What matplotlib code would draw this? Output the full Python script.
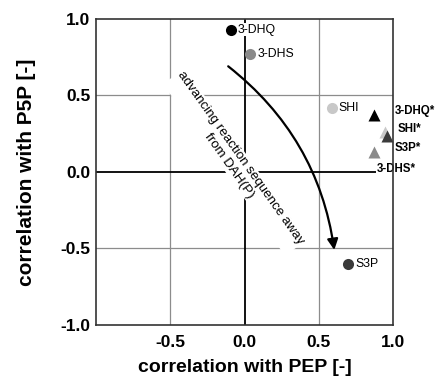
import matplotlib
matplotlib.use("Agg")
import matplotlib.pyplot as plt

plt.rcParams['font.family'] = ['Liberation Sans', 'DejaVu Sans']

# circles (correlations, first set)
circle_names = ["3-DHQ", "3-DHS", "SHI", "S3P"]
circle_x = [-0.09, 0.04, 0.59, 0.70]
circle_y = [0.93, 0.77, 0.42, -0.60]

# triangles (correlations, second set)
tri_names = ["3-DHQ*", "3-DHS*", "SHI*", "S3P*"]
tri_x = [0.87, 0.87, 0.95, 0.96]
tri_y = [0.37, 0.13, 0.26, 0.235]

colors = {"3-DHQ": "#000000", "3-DHS": "#8a8a8a", "SHI": "#c8c8c8", "S3P": "#3a3a3a"}

ticks_x = [-0.5, 0.0, 0.5, 1.0]
ticks_y = [-1.0, -0.5, 0.0, 0.5, 1.0]

fig = plt.figure(figsize=(4.39, 3.77), dpi=100)
ax = fig.add_axes([0.219, 0.138, 0.676, 0.812])
ax.set_xlim(-1, 1)
ax.set_ylim(-1, 1)

# grid and zero lines
for v in [-0.5, 0.5]:
    ax.axvline(v, color="#8c8c8c", lw=0.9, zorder=0)
    ax.axhline(v, color="#8c8c8c", lw=0.9, zorder=0)
ax.axvline(0, color="black", lw=1.3, zorder=0)
ax.axhline(0, color="black", lw=1.3, zorder=0)

# circles with labels
for n, x, y in zip(circle_names, circle_x, circle_y):
    ax.plot(x, y, "o", ms=8, color=colors[n], mec="none", zorder=3)
    ax.text(x + 0.045, y, n, fontsize=8.8, va="center", ha="left", zorder=2,
            bbox=dict(facecolor="white", edgecolor="none", pad=0.5))

# triangles
tri_order = [1, 0, 2, 3]
for i in tri_order:
    n = tri_names[i].rstrip("*")
    ax.plot(tri_x[i], tri_y[i], "^", ms=9, color=colors[n], mec="none", zorder=3)

tri_labels = {"3-DHQ*": (1.01, 0.395), "SHI*": (1.03, 0.28), "S3P*": (1.01, 0.155), "3-DHS*": (0.89, 0.02)}
for lab, (lx, ly) in tri_labels.items():
    ax.text(lx, ly, lab, fontsize=8.3, fontweight="bold", va="center", ha="left",
            zorder=2, clip_on=False,
            bbox=dict(facecolor="white", edgecolor="none", pad=0.3))

# curved arrow
ax.annotate("", xy=(0.605, -0.51), xytext=(-0.11, 0.69),
            arrowprops=dict(arrowstyle="-|>", color="black", lw=1.6,
                            mutation_scale=16, shrinkA=0, shrinkB=0,
                            connectionstyle="arc3,rad=-0.2"), zorder=4)

ax.text(-0.064, 0.065, "advancing reaction sequence away\nfrom DAH(P)", fontsize=9.6,
        rotation=-54.6, ha="center", va="center", multialignment="center",
        rotation_mode="anchor", zorder=2,
        bbox=dict(facecolor="white", edgecolor="none", pad=0.5))

ax.set_xticks(ticks_x)
ax.set_yticks(ticks_y)
ax.set_xticklabels([f"{t:.1f}" for t in ticks_x], fontweight="bold", fontsize=12.5)
ax.set_yticklabels([f"{t:.1f}" for t in ticks_y], fontweight="bold", fontsize=12.5)
ax.tick_params(axis="x", length=0, pad=7)
ax.tick_params(axis="y", length=0, pad=4)
for s in ax.spines.values():
    s.set_color("#333333")
    s.set_linewidth(1.2)

ax.set_xlabel("correlation with PEP [-]", fontweight="bold", fontsize=14, labelpad=6.5)
ax.set_ylabel("correlation with P5P [-]", fontweight="bold", fontsize=15, labelpad=18)

fig.savefig("out.png", dpi=100, facecolor="white")
